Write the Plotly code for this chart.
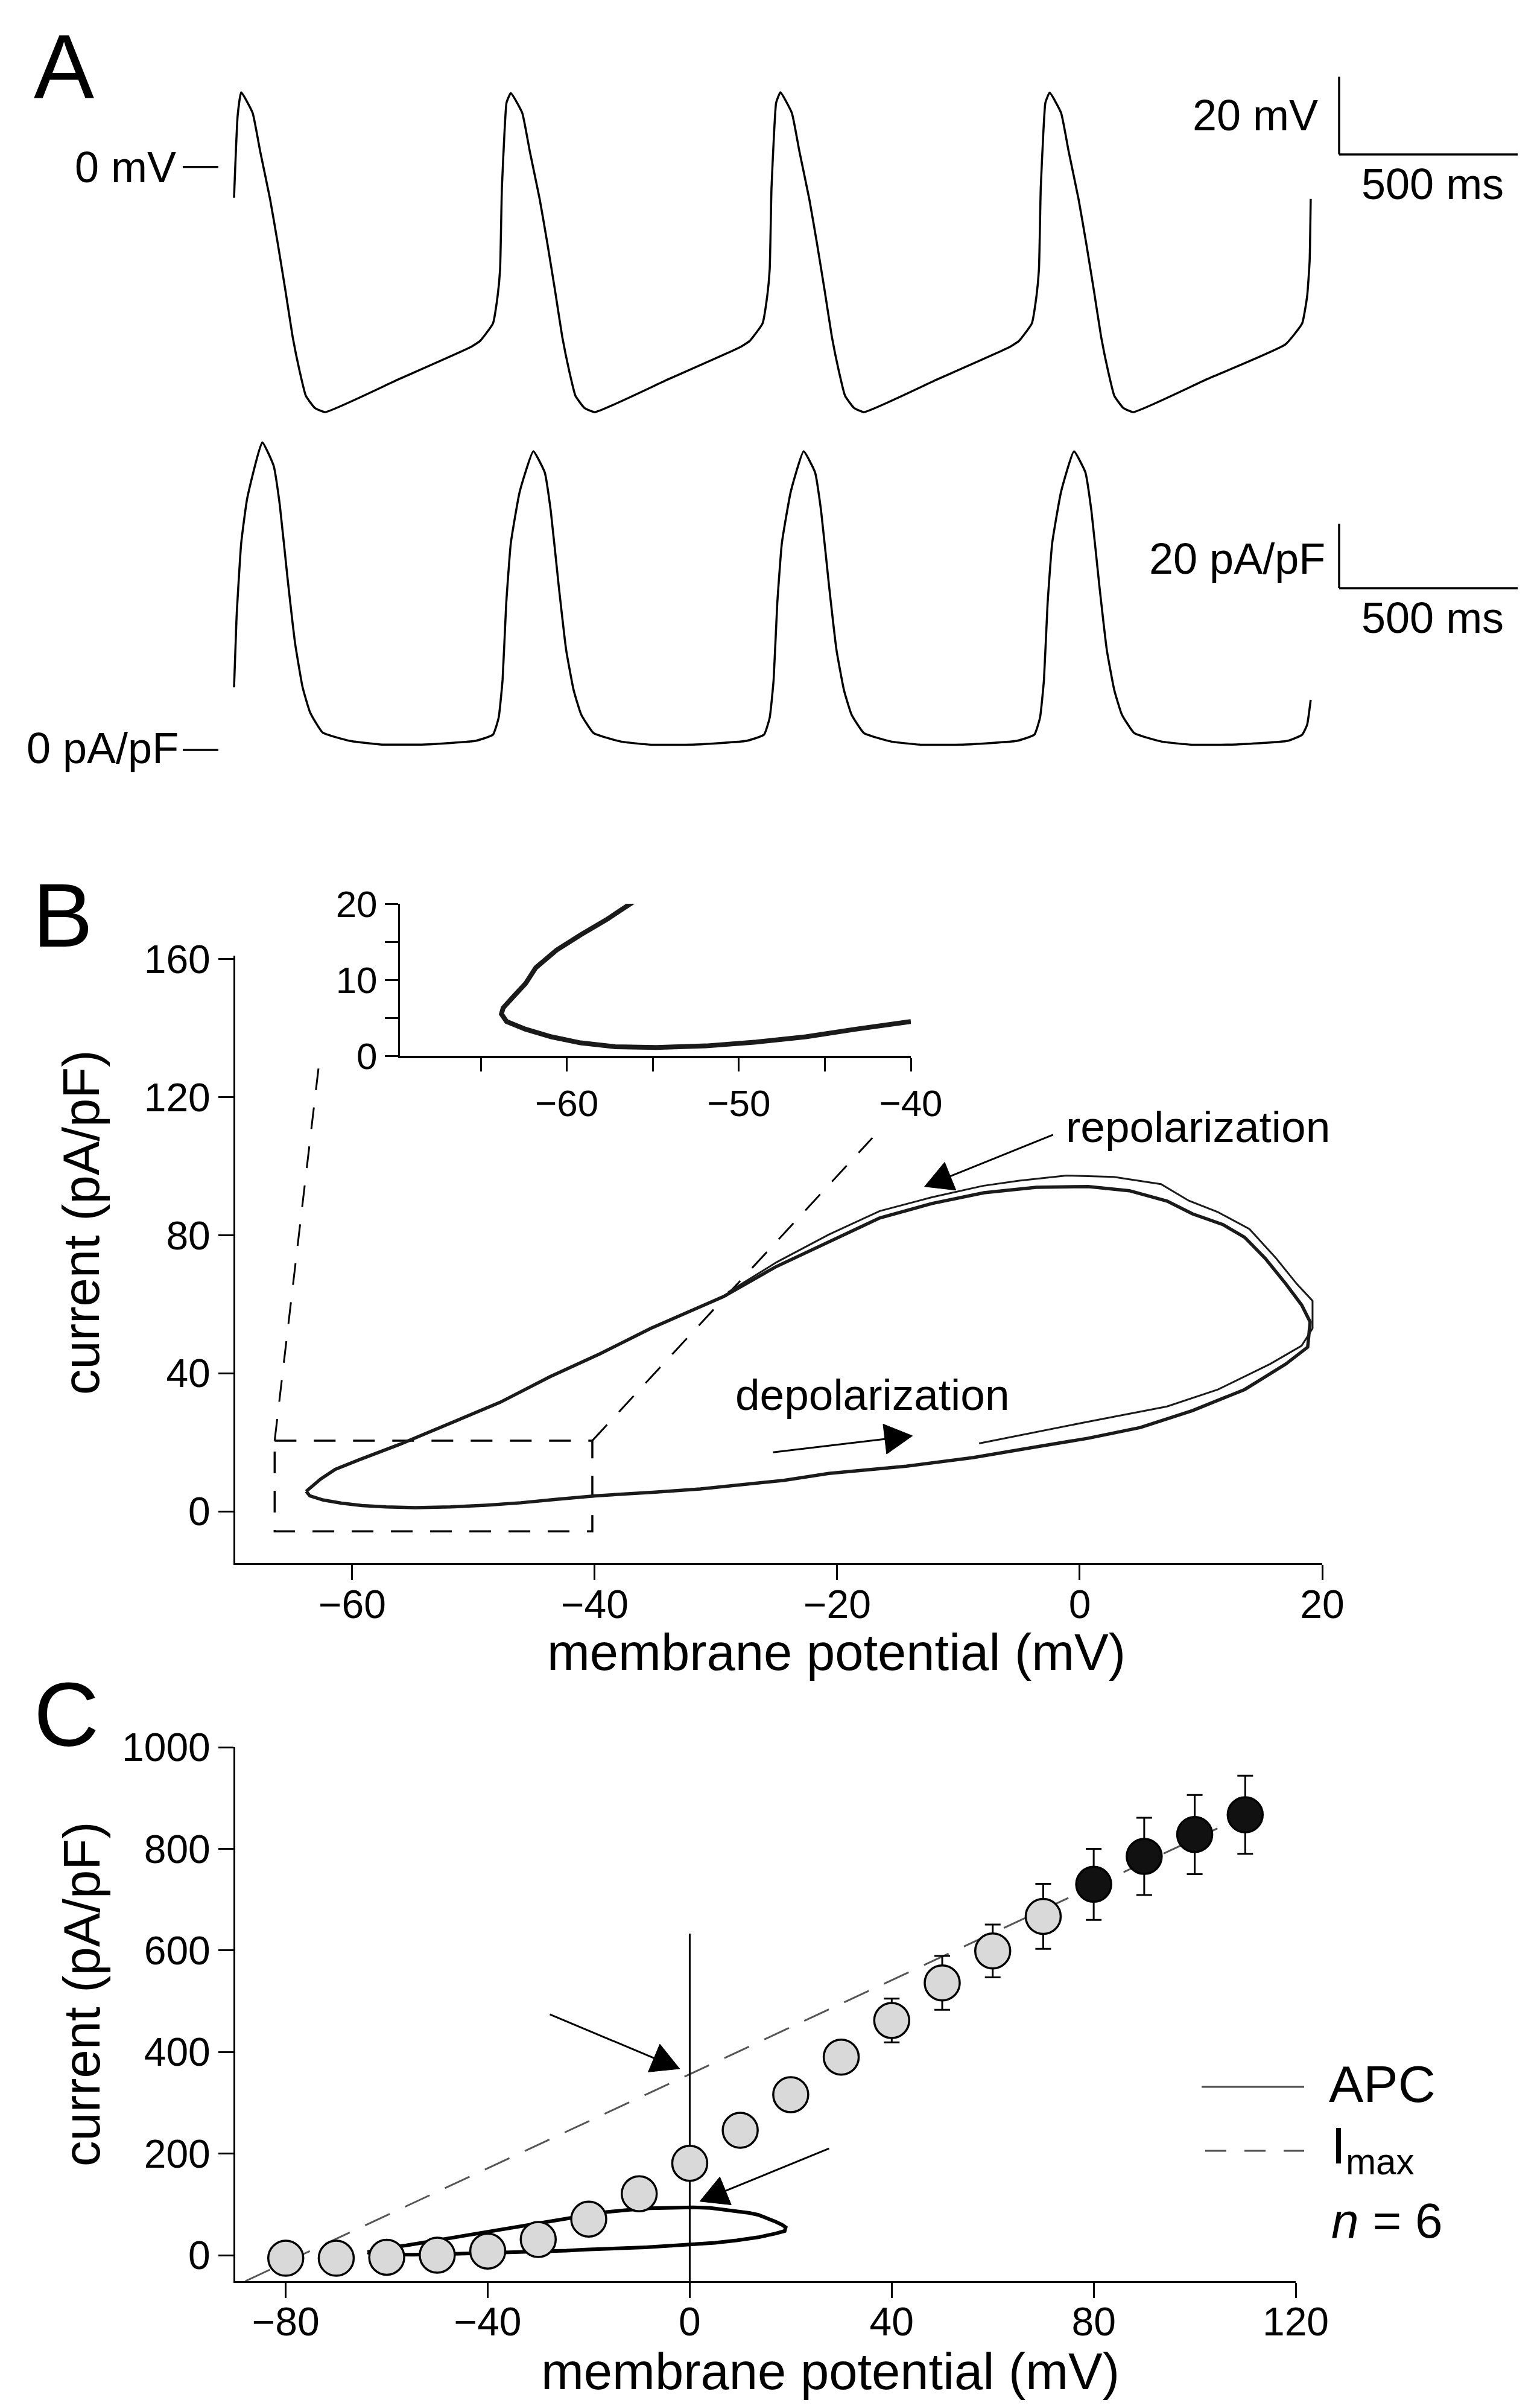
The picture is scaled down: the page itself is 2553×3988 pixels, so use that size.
import math
import plotly.graph_objects as go

W, H = 2553, 3988
FONT = "Liberation Sans, Arial, Helvetica, sans-serif"

# ---------------- DATA ----------------
# Panel A: membrane potential (ms, mV)
ap_time = [0, 10, 20, 52, 73, 101, 122, 144, 164, 184, 201, 226, 255, 460, 660, 689, 725, 738, 745, 750, 757, 763, 775,
           807, 828, 856, 877, 899, 919, 939, 956, 981, 1010, 1215, 1415, 1444, 1480, 1493, 1500, 1505, 1512, 1518, 1530,
           1562, 1583, 1611, 1632, 1654, 1674, 1694, 1711, 1736, 1764, 1969, 2169, 2198, 2234, 2247, 2254, 2259, 2266, 2272, 2284,
           2316, 2337, 2365, 2386, 2408, 2428, 2448, 2465, 2490, 2518, 2723, 2944, 2991, 3005, 3012, 3015]
ap_voltage = [-7.9, 13.1, 19.2, 13.9, 4.1, -8.3, -19.4, -31.8, -43.6, -52.6, -58.8, -61.9, -63.0, -54.6, -46.4, -44.7, -40.2, -33.2, -26.3, -5.5, 8.3, 16.5, 19.0,
              13.9, 4.1, -8.3, -19.4, -31.8, -43.6, -52.6, -58.8, -61.9, -63.0, -54.6, -46.4, -44.7, -40.2, -33.2, -26.3, -5.5, 8.3, 16.5, 19.2,
              13.9, 4.1, -8.3, -19.4, -31.8, -43.6, -52.6, -58.8, -61.9, -63.0, -54.6, -46.4, -44.7, -40.2, -33.2, -26.3, -5.5, 8.3, 16.5, 19.1,
              13.9, 4.1, -8.3, -19.4, -31.8, -43.6, -52.6, -58.8, -61.9, -63.0, -54.6, -45.6, -40.2, -33.2, -24.2, -8.2]

# Panel A: action potential clamp current (ms, pA/pF)
apc_time = [0, 7, 20, 37, 79, 111, 128, 150, 171, 192, 213, 248, 324, 409, 535, 676, 725, 741, 752, 762, 775, 800, 838,
            870, 887, 909, 930, 951, 972, 1007, 1083, 1168, 1294, 1435, 1484, 1500, 1511, 1521, 1534, 1559, 1595,
            1627, 1644, 1666, 1687, 1708, 1729, 1764, 1840, 1925, 2050, 2192, 2241, 2257, 2268, 2278, 2291, 2316, 2352,
            2384, 2401, 2423, 2444, 2465, 2486, 2521, 2597, 2682, 2807, 2950, 2991, 3005, 3015]
apc_current = [19.4, 41, 64, 78, 95.3, 88, 76, 53, 33, 19.4, 11.6, 5.4, 2.8, 1.7, 1.7, 2.8, 4.7, 10, 21.7, 45, 64, 80, 92.5,
               86, 74, 51, 31, 18.5, 11, 5.2, 2.6, 1.6, 1.7, 2.8, 4.7, 10, 21.7, 45, 64, 80, 92.5,
               86, 74, 51, 31, 18.5, 11, 5.2, 2.6, 1.6, 1.7, 2.8, 4.7, 10, 21.7, 45, 64, 80, 92.5,
               86, 74, 51, 31, 18.5, 11, 5.2, 2.6, 1.6, 1.7, 2.8, 4.7, 7.8, 15.5]

scale_time_ms = 500
scale_voltage_mv = 20
scale_current_pApF = 20

# Panel B: current-voltage loop (mV, pA/pF), steady cycles
loop_v = [-63.8, -63.5, -62.4, -60.9, -59.2, -57.2, -54.8, -51.9, -49.0, -46.1, -43.2, -40.0, -35.0, -31.3, -24.4, -20.7,
          -14.3, -8.8, -3.6, 0.7, 5.0, 9.3, 13.6, 17.0, 18.8, 19.0, 18.3, 17.0, 15.3, 13.6, 11.8, 9.3, 7.2, 4.1, 0.7,
          -3.6, -7.9, -12.2, -16.5, -20.7, -25.1, -29.4, -35.4, -39.6, -43.7, -47.8, -51.9, -56.1, -59.4, -61.4, -62.6, -63.8]
loop_i = [5.8, 4.5, 3.3, 2.4, 1.7, 1.3, 1.1, 1.3, 1.8, 2.5, 3.5, 4.5, 5.6, 6.5, 9.0, 11.0,
          13.1, 15.6, 18.7, 21.2, 24.3, 29.2, 35.3, 42.7, 47.6, 54.9, 59.8, 65.9, 73.3, 79.4, 83.1, 86.2, 89.9, 92.9, 94.1,
          93.9, 92.3, 89.2, 85.0, 78.1, 70.8, 62.2, 53.0, 45.6, 39.0, 31.6, 25.5, 19.4, 15.0, 12.2, 9.4, 5.8]
# first sweep (thin trace)
first_v = [-8.3, -3.6, 0.7, 7.2, 11.4, 15.7, 18.3, 19.2, 19.2, 17.9, 16.2, 14.0, 11.4, 9.0, 6.7, 2.8, -1.1, -5.0, -8.0,
           -12.2, -16.5, -20.7, -25.0, -29.0]
first_i = [19.7, 23.0, 26.0, 30.4, 35.3, 42.7, 48.0, 53.0, 61.0, 65.9, 73.3, 81.8, 86.7, 90.0, 94.8, 96.9, 97.3, 95.8, 94.3,
           91.0, 87.0, 80.2, 72.2, 63.5]
# inset (magnified foot of the loop)
inset_v = [-56.1, -57.7, -59.2, -60.6, -61.8, -62.4, -63.1, -63.7, -63.8, -63.5, -62.4, -60.9, -59.2, -57.2, -54.8,
           -51.9, -49.0, -46.1, -43.2, -40.0]
inset_i = [20.3, 17.9, 15.9, 13.9, 11.6, 9.5, 7.8, 6.3, 5.5, 4.5, 3.5, 2.5, 1.7, 1.2, 1.1, 1.3, 1.8, 2.5, 3.5, 4.5]
zoom_box_v = [-66.4, -40.2]
zoom_box_i = [-5.8, 20.5]
connector_top_v = [-62.7, -17.1]
connector_top_i = [130.9, 108.2]

# Panel C: I-V relation (mV, pA/pF)
c_voltage = [-80, -70, -60, -50, -40, -30, -20, -10, 0, 10, 20, 30, 40, 50, 60, 70, 80, 90, 100, 110]
c_current = [-6, -6, -4, 0, 8, 31, 71, 121, 181, 246, 316, 390, 462, 536, 599, 667, 730, 785, 828, 867]
c_sem = [6, 6, 8, 10, 12, 15, 18, 20, 22, 25, 28, 30, 43, 53, 52, 64, 70, 76, 78, 77]
imax_v = [-88, 104.5]
imax_i = [-51, 840]
zero_line_i = [-51, 633]

# ---------------- LAYOUT HELPERS ----------------
def px(fx):
    return fx / W

def py(fy):
    return 1 - fy / H

# panel A calibration (pixel geometry)
T0_PX, PX_PER_MS = 388.0, 296.0 / 500.0
V0_PX, PX_PER_MV = 276.8, 6.45
I0_PX, PX_PER_I = 1243.0, 5.35
A_SPLIT = 715.0
A_BOTTOM = 1300.0

# panel B / C plot boxes: (left px, right px, x range, bottom px, top px, y range)
GEOM_B = (390, 2192, (-69.65, 20), 2591, 1584, (-15, 161))
GEOM_C = (390, 2148, (-90, 120), 3781, 2896, (-51, 1000))

def to_pixels(geom, xv, yv):
    l, r, xr, b, t, yr = geom
    fx = l + (xv - xr[0]) / (xr[1] - xr[0]) * (r - l)
    fy = b + (yv - yr[0]) / (yr[1] - yr[0]) * (t - b)
    return fx, fy

fig = go.Figure()
BLACK = "black"

# Panel A traces
fig.add_trace(go.Scatter(x=ap_time, y=ap_voltage, mode="lines", xaxis="x", yaxis="y",
                         line=dict(color=BLACK, width=3.5, shape="spline", smoothing=0.4), hoverinfo="skip"))
fig.add_trace(go.Scatter(x=apc_time, y=apc_current, mode="lines", xaxis="x", yaxis="y2",
                         line=dict(color=BLACK, width=3.5, shape="spline", smoothing=0.4), hoverinfo="skip"))

# Panel B: zoom box and connectors
box_x = [zoom_box_v[0], zoom_box_v[1], zoom_box_v[1], zoom_box_v[0], zoom_box_v[0]]
box_y = [zoom_box_i[1], zoom_box_i[1], zoom_box_i[0], zoom_box_i[0], zoom_box_i[1]]
DASH_B = "36px,29px"
fig.add_trace(go.Scatter(x=box_x, y=box_y, mode="lines", xaxis="x3", yaxis="y3",
                         line=dict(color=BLACK, width=3.5, dash=DASH_B), hoverinfo="skip"))
fig.add_trace(go.Scatter(x=[zoom_box_v[0], connector_top_v[0]], y=[zoom_box_i[1], connector_top_i[0]], mode="lines",
                         xaxis="x3", yaxis="y3", line=dict(color=BLACK, width=3, dash=DASH_B), hoverinfo="skip"))
fig.add_trace(go.Scatter(x=[zoom_box_v[1], connector_top_v[1]], y=[zoom_box_i[1], connector_top_i[1]], mode="lines",
                         xaxis="x3", yaxis="y3", line=dict(color=BLACK, width=3, dash=DASH_B), hoverinfo="skip"))
fig.add_trace(go.Scatter(x=first_v, y=first_i, mode="lines", xaxis="x3", yaxis="y3",
                         line=dict(color="#1a1a1a", width=3), hoverinfo="skip"))
fig.add_trace(go.Scatter(x=loop_v, y=loop_i, mode="lines", xaxis="x3", yaxis="y3",
                         line=dict(color="#1a1a1a", width=5.5), hoverinfo="skip"))
# inset
fig.add_trace(go.Scatter(x=inset_v, y=inset_i, mode="lines", xaxis="x4", yaxis="y4",
                         line=dict(color="#1a1a1a", width=8), hoverinfo="skip"))

# Panel C
fig.add_trace(go.Scatter(x=imax_v, y=imax_i, mode="lines", xaxis="x5", yaxis="y5",
                         line=dict(color="#555555", width=3, dash="45px,28px"), hoverinfo="skip"))
fig.add_trace(go.Scatter(x=[0, 0], y=zero_line_i, mode="lines", xaxis="x5", yaxis="y5",
                         line=dict(color=BLACK, width=3), hoverinfo="skip"))
fig.add_trace(go.Scatter(x=loop_v, y=loop_i, mode="lines", xaxis="x5", yaxis="y5",
                         line=dict(color=BLACK, width=6), hoverinfo="skip"))
c_colors = ["#111111" if v >= 80 else "#d9d9d9" for v in c_voltage]
fig.add_trace(go.Scatter(x=c_voltage, y=c_current, mode="markers", xaxis="x5", yaxis="y5",
                         marker=dict(size=58, color=c_colors, line=dict(color=BLACK, width=3.5)),
                         error_y=dict(type="data", array=c_sem, visible=True, color=BLACK, thickness=3, width=13),
                         hoverinfo="skip", cliponaxis=False))

# ---------------- AXES ----------------
tick_font = dict(family=FONT, size=66, color=BLACK)
ax_style = dict(showline=True, linewidth=3, linecolor=BLACK, ticks="outside", ticklen=25, tickwidth=3,
                tickcolor=BLACK, showgrid=False, zeroline=False, tickfont=tick_font, fixedrange=True,
                automargin=False)
hidden = dict(visible=False, showgrid=False, zeroline=False, fixedrange=True, automargin=False)
inset_style = {**ax_style, "ticklen": 22, "tickfont": dict(family=FONT, size=62, color=BLACK)}
inset_minor = dict(ticks="outside", ticklen=22, tickwidth=3, tickcolor=BLACK, showgrid=False)

t_lo = (0 - T0_PX) / PX_PER_MS
t_hi = (W - T0_PX) / PX_PER_MS

fig.update_layout(
    xaxis=dict(domain=[0, 1], range=[t_lo, t_hi], anchor="y", **hidden),
    yaxis=dict(domain=[py(A_SPLIT), 1], range=[(V0_PX - A_SPLIT) / PX_PER_MV, V0_PX / PX_PER_MV], anchor="x", **hidden),
    yaxis2=dict(domain=[py(A_BOTTOM), py(A_SPLIT)],
                range=[(I0_PX - A_BOTTOM) / PX_PER_I, (I0_PX - A_SPLIT) / PX_PER_I], anchor="x", **hidden),
    xaxis3=dict(domain=[px(GEOM_B[0]), px(GEOM_B[1])], range=list(GEOM_B[2]), anchor="y3",
                tickvals=[-60, -40, -20, 0, 20], ticklabelstandoff=-16, **ax_style),
    yaxis3=dict(domain=[py(GEOM_B[3]), py(GEOM_B[4])], range=list(GEOM_B[5]), anchor="x3",
                tickvals=[0, 40, 80, 120, 160], **ax_style),
    xaxis4=dict(domain=[px(663), px(1510)], range=[-69.7, -40], anchor="y4",
                tickvals=[-60, -50, -40], minor=dict(tickvals=[-65, -55, -45], **inset_minor),
                **{**inset_style, "linewidth": 4}),
    yaxis4=dict(domain=[py(1750), py(1498)], range=[0, 20], anchor="x4",
                tickvals=[0, 10, 20], minor=dict(tickvals=[5, 15], **inset_minor),
                **inset_style),
    xaxis5=dict(domain=[px(GEOM_C[0]), px(GEOM_C[1])], range=list(GEOM_C[2]), anchor="y5",
                tickvals=[-80, -40, 0, 40, 80, 120], ticklabelstandoff=-17, **ax_style),
    yaxis5=dict(domain=[py(GEOM_C[3]), py(GEOM_C[4])], range=list(GEOM_C[5]), anchor="x5",
                tickvals=[0, 200, 400, 600, 800, 1000], **ax_style),
)

# ---------------- SHAPES (scale bars, zero ticks, legend lines, arrows) ----------------
shapes = []
def seg(x0, y0, x1, y1, xref, yref, width=3.5, color=BLACK, dash=None):
    d = dict(type="line", x0=x0, y0=y0, x1=x1, y1=y1, xref=xref, yref=yref,
             line=dict(color=color, width=width))
    if dash:
        d["line"]["dash"] = dash
    shapes.append(d)

tick_t0 = (303 - T0_PX) / PX_PER_MS
tick_t1 = (362 - T0_PX) / PX_PER_MS
seg(tick_t0, 0, tick_t1, 0, "x", "y", 3.5)
seg(tick_t0, 0, tick_t1, 0, "x", "y2", 3.5)

bar_t = (2220 - T0_PX) / PX_PER_MS
bar_v = (V0_PX - 256) / PX_PER_MV
seg(bar_t, bar_v, bar_t, bar_v + scale_voltage_mv, "x", "y", 3.5)
seg(bar_t, bar_v, bar_t + scale_time_ms, bar_v, "x", "y", 3.5)
bar_i = (I0_PX - 975) / PX_PER_I
seg(bar_t, bar_i, bar_t, bar_i + scale_current_pApF, "x", "y2", 3.5)
seg(bar_t, bar_i, bar_t + scale_time_ms, bar_i, "x", "y2", 3.5)

# legend lines in panel C
seg(px(1992), py(3459), px(2162), py(3459), "paper", "paper", 3, "#4d4d4d")
seg(px(1998), py(3565), px(2162), py(3565), "paper", "paper", 3, "#4d4d4d", "35px,30px")

HEAD_LEN, HEAD_HALF = 46, 25
def arrow(geom, tip_v, tip_i, tail_v, tail_i):
    hx, hy = to_pixels(geom, tip_v, tip_i)
    tx, ty = to_pixels(geom, tail_v, tail_i)
    L = math.hypot(hx - tx, hy - ty)
    dx, dy = (hx - tx) / L, (hy - ty) / L
    bx, by = hx - dx * HEAD_LEN, hy - dy * HEAD_LEN
    seg(px(tx), py(ty), px(bx + dx * 4), py(by + dy * 4), "paper", "paper", 3)
    c1 = (bx - dy * HEAD_HALF, by + dx * HEAD_HALF)
    c2 = (bx + dy * HEAD_HALF, by - dx * HEAD_HALF)
    path = "M{:.5f},{:.5f} L{:.5f},{:.5f} L{:.5f},{:.5f} Z".format(
        px(hx), py(hy), px(c1[0]), py(c1[1]), px(c2[0]), py(c2[1]))
    shapes.append(dict(type="path", path=path, xref="paper", yref="paper",
                       fillcolor=BLACK, line=dict(color=BLACK, width=1)))

arrow(GEOM_B, -12.8, 94.1, -2.2, 109.1)
arrow(GEOM_B, -13.8, 21.9, -25.3, 17.1)
arrow(GEOM_C, -2.0, 367, -27.7, 474)
arrow(GEOM_C, 2.0, 106, 27.6, 210)

# ---------------- ANNOTATIONS ----------------
ann = []
def txt(s, fx, fy, size, xanchor="center", angle=0):
    ann.append(dict(text=s, x=px(fx), y=py(fy), xref="paper", yref="paper", showarrow=False,
                    xanchor=xanchor, yanchor="middle", textangle=angle,
                    font=dict(family=FONT, size=size, color=BLACK)))

txt("A", 106, 110, 150)
txt("B", 104, 1517, 150)
txt("C", 110, 2842, 150)

txt("0 mV", 294, 277, 72, "right")
txt("20 mV", 2187, 191, 72, "right")
txt("500 ms", 2375, 305, 72)
txt("0 pA/pF", 298, 1240, 72, "right")
txt("20 pA/pF", 2199, 926, 72, "right")
txt("500 ms", 2375, 1024, 72)

txt("repolarization", 1765, 1867, 73, "left")
txt("depolarization", 1217, 2311, 73, "left")
txt("membrane potential (mV)", 1386, 2738, 85)
txt("current (pA/pF)", 135, 2026, 85, "center", -90)

txt("membrane potential (mV)", 1376, 3930, 85)
txt("current (pA/pF)", 135, 3305, 85, "center", -90)
txt("APC", 2201, 3454, 86, "left")
txt("I<sub>max</sub>", 2205, 3562, 86, "left")
txt("<i>n</i> = 6", 2205, 3680, 82, "left")

fig.update_layout(
    width=W, height=H, autosize=False,
    margin=dict(l=0, r=0, t=0, b=0, pad=0, autoexpand=False),
    paper_bgcolor="white", plot_bgcolor="white",
    showlegend=False,
    shapes=shapes, annotations=ann,
    font=dict(family=FONT, color=BLACK),
)

fig.write_html("out.html", config={"displayModeBar": False, "staticPlot": True},
               post_script="document.body.style.margin='0';document.body.style.overflow='hidden';")
